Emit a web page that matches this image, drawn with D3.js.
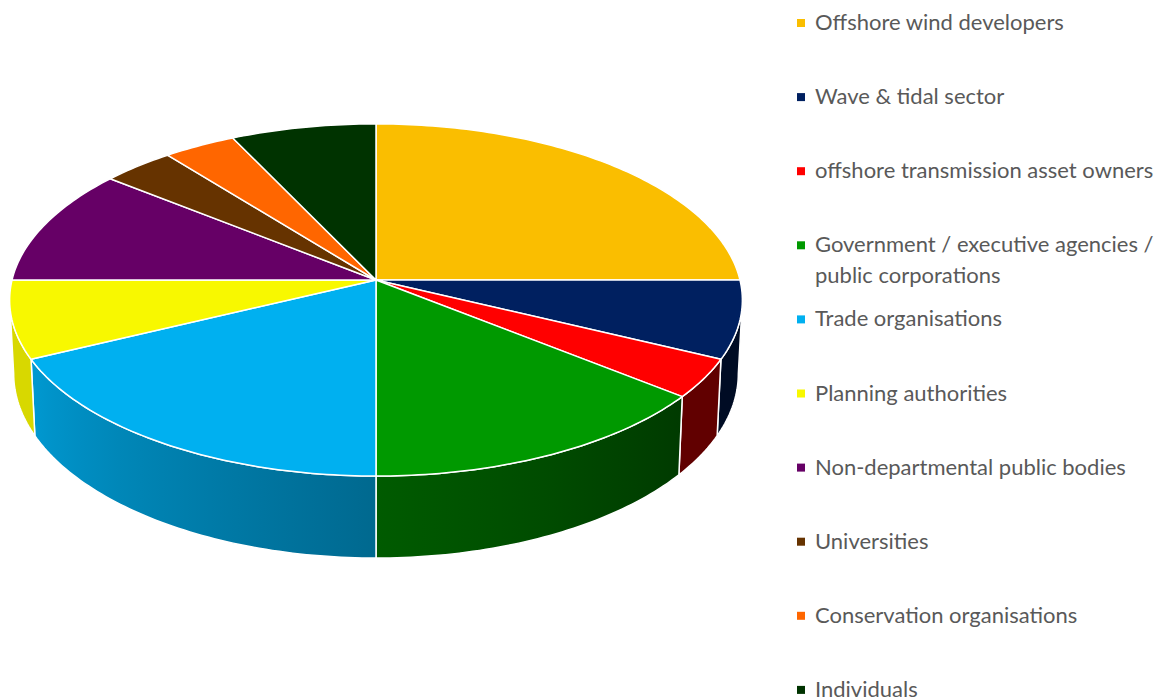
<!DOCTYPE html>
<html>
<head>
<meta charset="utf-8">
<script src="https://cdn.jsdelivr.net/npm/d3@7"></script>
<style>
  body { margin: 0; background: #fff; }
  svg { display: block; }
</style>
</head>
<body>
<div id="chart"></div>
<script>
var categories = ["Offshore wind developers", "Wave & tidal sector", "offshore transmission asset owners",
  "Government / executive agencies / public corporations", "Trade organisations", "Planning authorities",
  "Non-departmental public bodies", "Universities", "Conservation organisations", "Individuals"]
var legendLines = [["Offshore wind developers"], ["Wave & tidal sector"], ["offshore transmission asset owners"],
  ["Government / executive agencies /", "public corporations"], ["Trade organisations"], ["Planning authorities"],
  ["Non-departmental public bodies"], ["Universities"], ["Conservation organisations"], ["Individuals"]]
var values = [7, 2, 1, 4, 5, 2, 3, 1, 1, 2]
var colors = ["#FABE00", "#002060", "#FF0000", "#009900", "#00B0F0", "#F8F800",
  "#660066", "#663300", "#FF6600", "#003300"]

var width = 1159
var height = 698

// 3d pie geometry (perspective looking down)
var cx = 376, cy = 280
var R = 364, ry = 173.8, h = 72.7, u = 0.1135

function proj(t, level) {
  var s = 1 / (1 - u * Math.sin(t))
  var xs = 1 - 0.011 * level
  return [cx + R * Math.cos(t) * s * xs, cy + (ry * Math.sin(t) + h * level) * s]
}

// pie angle (0 = 12 o'clock, clockwise) to ellipse parameter
function toT(a) { return a - Math.PI / 2 }

function arcPoints(t0, t1, level) {
  var n = Math.max(2, Math.ceil(Math.abs(t1 - t0) / (Math.PI / 180)))
  var pts = []
  for (var i = 0; i <= n; i++) pts.push(proj(t0 + (t1 - t0) * i / n, level))
  return pts
}

function shade(t) {
  var deg = t * 180 / Math.PI
  var f = 0.38 + (0.87 - 0.38) * (deg - 39) / (154 - 39)
  return Math.max(0.38, Math.min(0.87, f))
}

var svg = d3.select("#chart")
  .append("svg")
  .attr("width", width)
  .attr("height", height)

var defs = svg.append("defs")

var pie = d3.pie().sort(null).value(function(d) { return d })
var arcs = pie(values)

var line = d3.line()

var tR = Math.asin(u), tL = Math.PI - Math.asin(u)

// side walls (front-facing part only)
var walls = svg.append("g")
arcs.forEach(function(d, i) {
  var t0 = Math.max(toT(d.startAngle), tR)
  var t1 = Math.min(toT(d.endAngle), tL)
  if (t1 <= t0) return
  var top = arcPoints(t0, t1, 0)
  var bot = arcPoints(t0, t1, 1).reverse()
  var x0 = top[0][0], x1 = top[top.length - 1][0]
  var grad = defs.append("linearGradient")
    .attr("id", "side" + i)
    .attr("gradientUnits", "userSpaceOnUse")
    .attr("x1", x0).attr("x2", x1).attr("y1", 0).attr("y2", 0)
  var base = d3.rgb(colors[i])
  for (var k = 0; k <= 8; k++) {
    var t = t0 + (t1 - t0) * k / 8
    var p = proj(t, 0)
    var f = shade(t)
    grad.append("stop")
      .attr("offset", (x1 === x0 ? 0 : (p[0] - x0) / (x1 - x0)))
      .attr("stop-color", d3.rgb(base.r * f, base.g * f, base.b * f))
  }
  walls.append("path")
    .attr("d", line(top.concat(bot)) + "Z")
    .attr("fill", "url(#side" + i + ")")
    .attr("stroke", "#fff")
    .attr("stroke-width", 1.5)
    .attr("stroke-linejoin", "round")
})

// top faces
var tops = svg.append("g")
arcs.forEach(function(d, i) {
  var pts = [[cx, cy]].concat(arcPoints(toT(d.startAngle), toT(d.endAngle), 0))
  tops.append("path")
    .attr("d", line(pts) + "Z")
    .attr("fill", colors[i])
    .attr("stroke", "#fff")
    .attr("stroke-width", 1.5)
    .attr("stroke-linejoin", "round")
})

// legend
var legend = svg.append("g")
  .attr("font-family", "Lato, 'Open Sans', sans-serif")
  .attr("fill", "#595959")

var fontSize = 20
var probe = legend.append("text").attr("font-size", fontSize).text(categories[0])
var w = probe.node().getComputedTextLength()
probe.remove()
fontSize = fontSize * 249 / w

legendLines.forEach(function(lines, i) {
  var y = 30 + i * 74.1
  legend.append("rect")
    .attr("x", 797).attr("y", y - 11)
    .attr("width", 8).attr("height", 8)
    .attr("fill", colors[i])
  lines.forEach(function(txt, j) {
    legend.append("text")
      .attr("x", 815)
      .attr("y", y + j * 31)
      .attr("font-size", fontSize)
      .text(txt)
  })
})
</script>
</body>
</html>
